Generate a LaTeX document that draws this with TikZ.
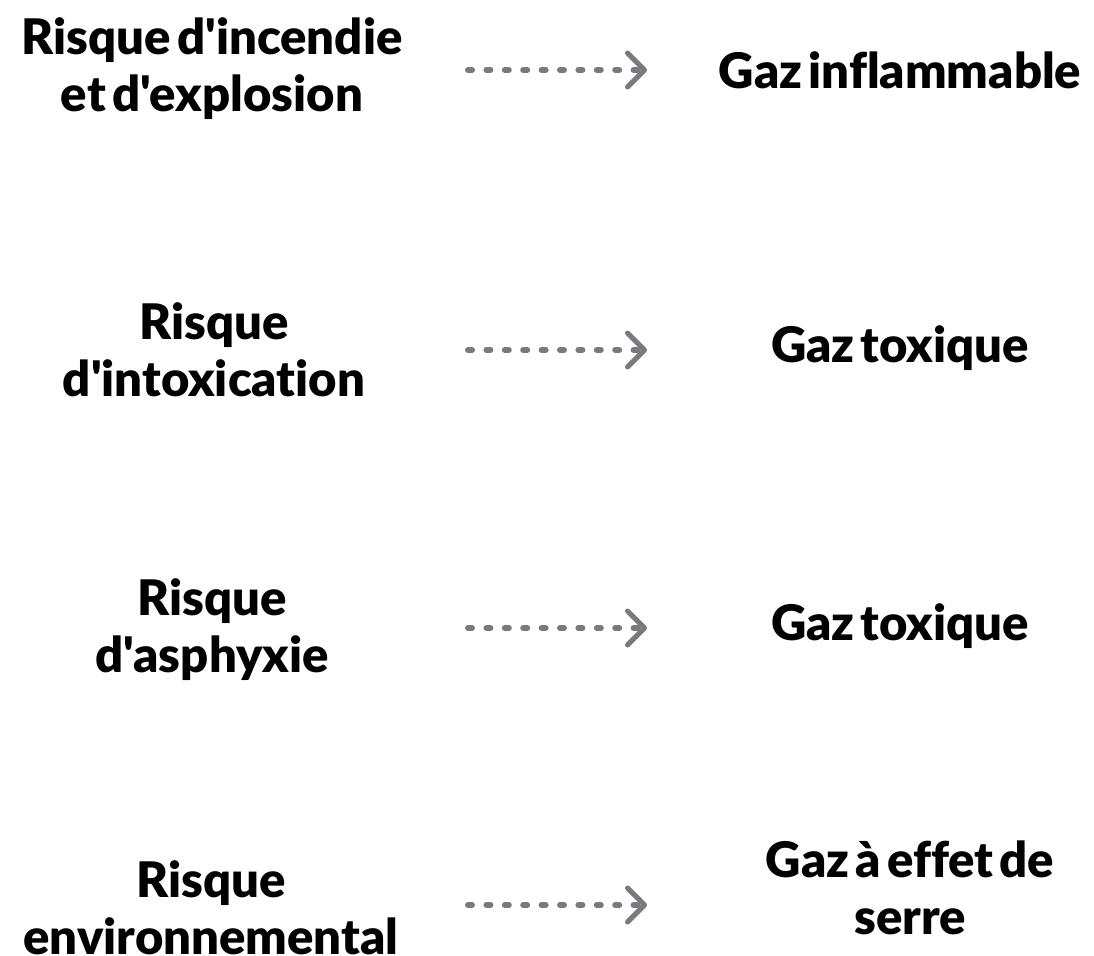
\documentclass[tikz,border=0pt]{standalone}
\usepackage{fontspec}
\setmainfont{Lato}[UprightFont=* Black,Ligatures={TeXOff,CommonOff},WordSpace=0.55]
\usetikzlibrary{arrows.meta}
\definecolor{arrgray}{HTML}{7A7A7E}
\begin{document}
\begin{tikzpicture}[x=1pt,y=-1pt,
  lbl/.style={align=center,inner sep=0pt,font=\fontsize{49}{57}\selectfont},
  arr/.style={draw=arrgray,line width=6pt,line cap=round,dash pattern=on 4pt off 14.4pt,
    -{Straight Barb[length=17pt,width=34pt,line width=5pt,round]}}]
\useasboundingbox (0,0) rectangle (1094,955);
\node[lbl] (l1) at (212,69) {Risque d'incendie\\et d'explosion};
\node[lbl] (l2) at (214,350) {Risque\\d'intoxication};
\node[lbl] (l3) at (212,630) {Risque\\d'asphyxie};
\node[lbl] (l4) at (211,908) {Risque\\environnemental};
\node[lbl] (r1) at (900,70) {Gaz inflammable};
\node[lbl] (r2) at (900,348) {Gaz toxique};
\node[lbl] (r3) at (900,626) {Gaz toxique};
\node[lbl] (r4) at (910,888) {Gaz à effet de\\serre};
\foreach \i/\y in {1/70,2/350,3/628,4/905}{
  \coordinate (s\i) at (468,\y);
  \coordinate (e\i) at (647,\y);
  \draw[arr] (s\i) -- (e\i);
}
\end{tikzpicture}
\end{document}
